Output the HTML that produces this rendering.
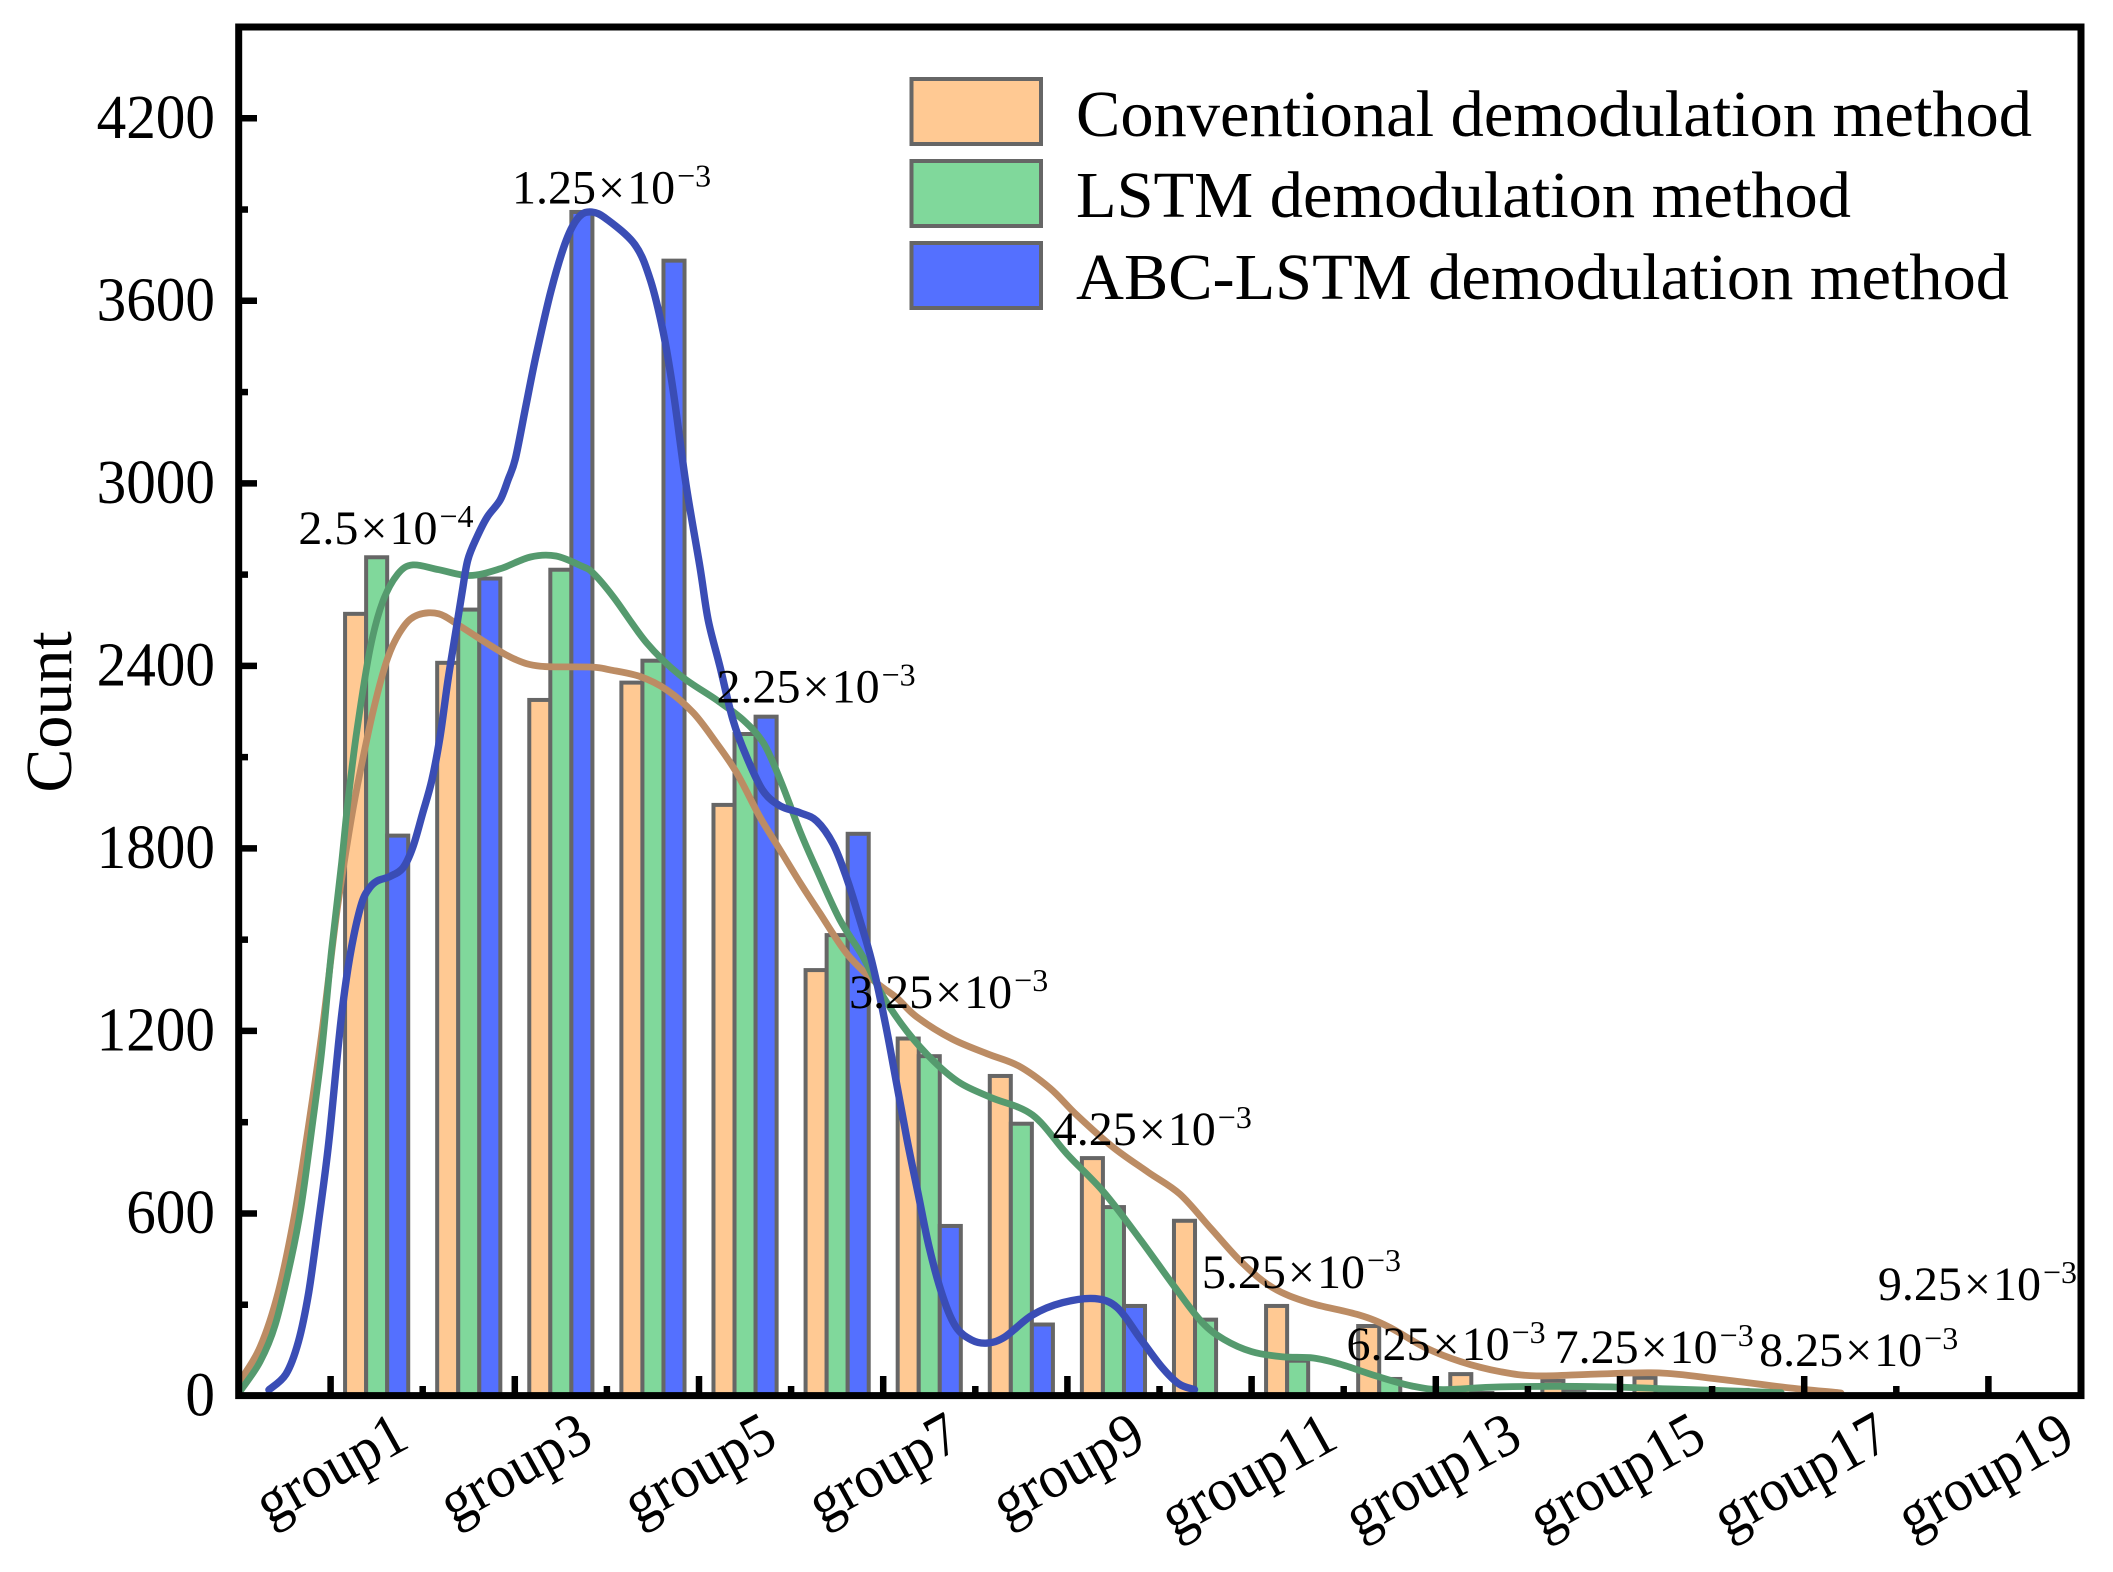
<!DOCTYPE html>
<html lang="en">
<head>
<meta charset="utf-8">
<title>Count by group for three demodulation methods</title>
<style>
html,body{margin:0;padding:0;background:#fff;}
svg{display:block;}
text{font-family:"Liberation Serif",serif;fill:#000;}
</style>
</head>
<body>
<svg id="chart" xmlns="http://www.w3.org/2000/svg" width="2113" height="1572" viewBox="0 0 2113 1572">
  <rect x="0" y="0" width="2113" height="1572" fill="#fff"/>
  <g id="bars"></g>
  <g id="curves"></g>
  <g id="yticks"></g>
  <g id="xticks"></g>
  <g id="notes"></g>
  <rect x="238.7" y="27" width="1842.3" height="1368.6" fill="none" stroke="#000" stroke-width="7"/>
  <text transform="translate(71 712) rotate(-90)" text-anchor="middle" font-size="66">Count</text>
  <g>
    <g>
      <rect x="911.5" y="79" width="129.5" height="65" fill="#FFC993" stroke="#666" stroke-width="4"/>
      <text x="1076" y="136" font-size="66" textLength="956" lengthAdjust="spacingAndGlyphs">Conventional demodulation method</text>
    </g>
    <g>
      <rect x="911.5" y="161" width="129.5" height="65" fill="#80D89B" stroke="#666" stroke-width="4"/>
      <text x="1076" y="217" font-size="66" textLength="775" lengthAdjust="spacingAndGlyphs">LSTM demodulation method</text>
    </g>
    <g>
      <rect x="911.5" y="243" width="129.5" height="65" fill="#5470FF" stroke="#666" stroke-width="4"/>
      <text x="1076" y="299" font-size="66" textLength="933" lengthAdjust="spacingAndGlyphs">ABC-LSTM demodulation method</text>
    </g>
  </g>
</svg>
<script>
// Bar values, one per group (group1..group19)
const conventionalValues = [2571,2410,2288,2345,1943,1400,1175,1052,782,576,296,230,72,50,60,20,0,5,0];
const lstmValues = [2757,2585,2716,2417,2176,1515,1117,895,621,251,116,56,10,20,20,5,0,0,0];
const abcLstmValues = [1842,2687,3892,3732,2233,1848,559,235,296,0,0,0,0,0,0,0,0,0,0];

// Curve samples: position along the category axis, and count
const conventionalCurveU = [.03,.235,.43,.6,.73,.9,1.066,1.205,1.287,1.454,1.62,1.786,1.95,2.175,2.39,2.73,3,3.28,3.836,4.03,4.36,4.65,4.94,5.19,5.41,5.66,5.88,6.1,6.31,6.6,6.89,7.15,7.36,7.745,8.13,8.47,8.81,9.1,9.49,9.875,10.22,10.56,10.9,11.23,11.62,12.16,12.49,12.88,13.27,13.7,14.09,14.73,15.42,16.06,16.8,17.4];
const conventionalCurveV = [56,161,340,583,826,1182,1588,1862,2000,2241,2426,2526,2568,2571,2534,2468,2422,2399,2396,2387,2365,2321,2245,2146,2048,1904,1795,1686,1588,1456,1367,1308,1247,1174,1125,1085,1012,924,819,736,664,550,437,356,307,267,227,160,113,80,66,72,76,56,28,10];
const lstmCurveU = [.03,.235,.4,.568,.68,.79,.9,1.01,1.12,1.19,1.287,1.43,1.565,1.73,1.895,2.175,2.507,2.84,3.17,3.447,3.725,3.85,4.07,4.43,4.79,5.19,5.48,5.7,5.88,6.1,6.28,6.53,6.78,7,7.26,7.55,7.84,8.18,8.62,9,9.39,9.78,10.17,10.46,10.7,11,11.33,11.67,11.96,12.35,12.74,13.08,13.7,14.73,15.57,16.75];
const lstmCurveV = [21,113,235,445,622,865,1124,1463,1755,1959,2190,2458,2610,2702,2732,2716,2697,2719,2758,2761,2728,2705,2627,2476,2370,2288,2222,2146,2027,1854,1729,1565,1444,1313,1198,1100,1028,980,924,794,672,519,356,243,186,146,129,125,105,66,33,21,30,31,23,11];
const abcLstmCurveU = [.33,.516,.65,.762,.874,.983,1.094,1.17,1.25,1.338,1.41,1.5,1.645,1.786,1.894,2,2.1,2.188,2.275,2.35,2.427,2.49,2.59,2.7,2.84,2.926,3.005,3.116,3.227,3.393,3.56,3.697,3.836,4,4.305,4.473,4.61,4.723,4.86,5.01,5.1,5.228,5.37,5.518,5.696,5.88,6.097,6.278,6.457,6.603,6.75,6.875,7.02,7.14,7.26,7.38,7.5,7.65,7.79,7.96,8.13,8.32,8.62,8.95,9.3,9.54,9.78,10.02,10.21,10.38];
const abcLstmCurveV = [20,72,178,340,583,841,1183,1370,1510,1620,1665,1692,1708,1736,1805,1916,2025,2166,2354,2495,2640,2748,2824,2889,2945,3011,3080,3248,3415,3633,3800,3876,3892,3868,3784,3667,3499,3297,2995,2726,2550,2397,2221,2100,1989,1940,1917,1890,1814,1703,1561,1430,1230,1036,841,664,487,324,227,184,174,194,266,307,320,291,194,97,40,21];

// Axis tick values and labels
const yTickValues = [0,600,1200,1800,2400,3000,3600,4200];
const yMinorValues = [300,900,1500,2100,2700,3300,3900];
const xTickLabels = ['group1','group3','group5','group7','group9','group11','group13','group15','group17','group19'];
const xTickPositions = [1,3,5,7,9,11,13,15,17,19];
const xMinorPositions = [2,4,6,8,10,12,14,16,18];

// Annotations: bit error rate mantissa, exponent
const noteMantissas = ['2.5','1.25','2.25','3.25','4.25','5.25','6.25','7.25','8.25','9.25'];
const noteExponents = ['−4','−3','−3','−3','−3','−3','−3','−3','−3','−3'];
const noteU = [0.65,2.97,5.19,6.63,8.84,10.46,12.03,14.29,16.51,17.8];
const noteV = [2800,3920,2280,1275,825,355,118,108,99,315];

const SVGNS = 'http://www.w3.org/2000/svg';
const xScale = u => 238.5 + 92.1 * u;
const yScale = v => 1396 - v * (1369 / 4500);
const BAR_W = 21.05;

function make(tag, attrs, parent) {
  const el = document.createElementNS(SVGNS, tag);
  for (const k in attrs) el.setAttribute(k, attrs[k]);
  parent.appendChild(el);
  return el;
}

function smoothPath(us, vs) {
  const p = us.map((u, i) => [xScale(u), yScale(vs[i])]);
  let d = 'M' + p[0][0].toFixed(1) + ' ' + p[0][1].toFixed(1);
  for (let i = 0; i < p.length - 1; i++) {
    const a = p[Math.max(i - 1, 0)], b = p[i], c = p[i + 1], e = p[Math.min(i + 2, p.length - 1)];
    const c1x = b[0] + (c[0] - a[0]) / 6, c1y = b[1] + (c[1] - a[1]) / 6;
    const c2x = c[0] - (e[0] - b[0]) / 6, c2y = c[1] - (e[1] - b[1]) / 6;
    d += 'C' + c1x.toFixed(1) + ' ' + c1y.toFixed(1) + ' ' + c2x.toFixed(1) + ' ' + c2y.toFixed(1) + ' ' + c[0].toFixed(1) + ' ' + c[1].toFixed(1);
  }
  return d;
}

// Bars
const barsG = document.getElementById('bars');
function drawBars(values, offset, fill, seriesName) {
  values.forEach((val, i) => {
    if (val <= 0) return;
    const cx = xScale(i + 1.5) + offset * BAR_W;
    const bar = make('rect', {x: (cx - BAR_W / 2).toFixed(2), y: yScale(val).toFixed(2), width: BAR_W, height: (yScale(0) - yScale(val)).toFixed(2), fill: fill, stroke: '#666', 'stroke-width': 4}, barsG);
    
    
  });
}
drawBars(conventionalValues, -1, '#FFC993', 'conventional');
drawBars(lstmValues, 0, '#80D89B', 'lstm');
drawBars(abcLstmValues, 1, '#5470FF', 'abc-lstm');

// Curves
const curvesG = document.getElementById('curves');
const curveTan = make('path', {d: smoothPath(conventionalCurveU, conventionalCurveV), fill: 'none', stroke: '#BC8C64', 'stroke-width': 6.8, 'stroke-linecap': 'round'}, curvesG);


const curveGreen = make('path', {d: smoothPath(lstmCurveU, lstmCurveV), fill: 'none', stroke: '#559A6E', 'stroke-width': 6.8, 'stroke-linecap': 'round'}, curvesG);


const curveBlue = make('path', {d: smoothPath(abcLstmCurveU, abcLstmCurveV), fill: 'none', stroke: '#3A4DB5', 'stroke-width': 7.4, 'stroke-linecap': 'round'}, curvesG);



// Y axis
const yG = document.getElementById('yticks');
yTickValues.forEach(v => {
  const y = yScale(v);
  if (v > 0) {
    const tick = make('line', {x1: 239, x2: 257, y1: y, y2: y, stroke: '#000', 'stroke-width': 6.5}, yG);
    
    
  }
  const label = make('text', {x: 215, y: y + 19.5, 'text-anchor': 'end', 'font-size': 62, textLength: (String(v).length * 29.6).toFixed(1), lengthAdjust: 'spacingAndGlyphs'}, yG);
  
  
  label.textContent = String(v);
});
yMinorValues.forEach(v => {
  const y = yScale(v);
  const tick = make('line', {x1: 239, x2: 248, y1: y, y2: y, stroke: '#000', 'stroke-width': 6.5}, yG);
  
  
});

// X axis
const xG = document.getElementById('xticks');
xTickPositions.forEach((u, i) => {
  const x = xScale(u);
  const tick = make('line', {x1: x, x2: x, y1: 1396, y2: 1376, stroke: '#000', 'stroke-width': 6.5}, xG);
  
  
  const twoDigit = xTickLabels[i].length > 6;
  const endX = x + (twoDigit ? 89 : 81);
  const label = make('text', {transform: 'translate(' + endX.toFixed(1) + ' 1446) rotate(-29)', 'text-anchor': 'end', 'font-size': 61, textLength: twoDigit ? 190 : 163, lengthAdjust: 'spacingAndGlyphs'}, xG);
  
  
  label.textContent = xTickLabels[i];
});
xMinorPositions.forEach(u => {
  const x = xScale(u);
  const tick = make('line', {x1: x, x2: x, y1: 1396, y2: 1386, stroke: '#000', 'stroke-width': 6.5}, xG);
  
  
});

// Annotations
const notesG = document.getElementById('notes');
noteMantissas.forEach((m, i) => {
  const x = xScale(noteU[i]);
  const y = yScale(noteV[i]);
  const note = make('text', {x: x.toFixed(1), y: y.toFixed(1), 'font-size': 48}, notesG);
  
  
  const base = make('tspan', {}, note);
  base.textContent = m;
  const times = make('tspan', {dx: 2}, note);
  times.textContent = '×';
  const ten = make('tspan', {dx: 2}, note);
  ten.textContent = '10';
  const exp = make('tspan', {'font-size': 32, dy: -17, dx: 2}, note);
  exp.textContent = noteExponents[i];
});
</script>
</body>
</html>
